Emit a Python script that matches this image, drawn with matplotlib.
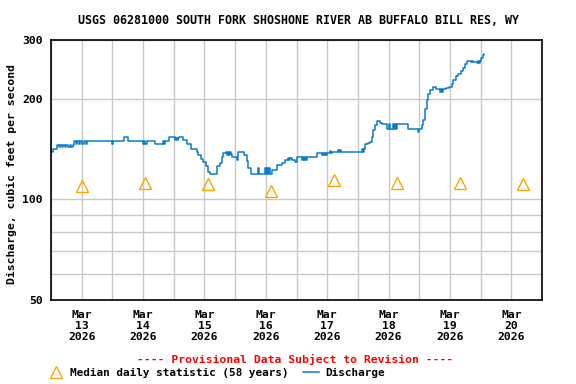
import numpy as np
import pandas as pd
import matplotlib
matplotlib.use('Agg')
import matplotlib.pyplot as plt
import matplotlib.dates as mdates
from matplotlib.lines import Line2D
from matplotlib.ticker import FixedLocator, NullFormatter

# 数据：距 2026-03-13 00:00 的小时数，以及流量 (cfs)
hours = [0, 0.8, 2.3, 3.0, 3.5, 4.3, 4.8, 5.5, 6.0, 6.8, 7.3, 8.0, 8.5,
         9.0, 9.6, 10.2, 11.0, 11.5, 12.3, 12.8, 13.5, 14.0, 24.0, 24.3,
         28.5, 30.1, 36.0, 36.4, 36.8, 37.5, 40.7, 43.8, 44.2, 44.6,
         46.1, 48.5, 48.9, 49.3, 49.7, 50.0, 51.6, 53.2, 54.7, 57.1,
         57.5, 58.6, 59.4, 60.6, 61.4, 62.2, 64.9, 66.1, 66.8, 67.2,
         68.4, 68.8, 69.2, 69.6, 70.0, 70.4, 70.8, 72.7, 73.1, 75.4,
         76.6, 77.0, 78.2, 80.9, 81.3, 83.7, 84.1, 84.5, 85.0, 85.4,
         85.8, 86.4, 88.3, 90.3, 91.5, 92.6, 93.0, 93.4, 94.2, 95.4,
         96.2, 98.1, 98.5, 98.9, 99.3, 99.7, 100.1, 104.0, 106.0, 106.4,
         106.8, 107.2, 107.6, 107.9, 109.1, 109.5, 109.8, 112.2, 112.6,
         113.0, 113.4, 113.8, 121.6, 122.0, 122.3, 122.7, 123.9, 124.7,
         125.5, 125.9, 126.7, 127.4, 128.6, 129.4, 131.3, 132.1, 132.5,
         133.7, 134.1, 134.5, 134.9, 135.3, 139.6, 143.5, 143.9, 145.0,
         145.4, 146.2, 147.0, 147.4, 148.2, 149.3, 150.5, 152.1, 152.5,
         152.9, 153.2, 154.4, 155.6, 156.8, 157.1, 158.3, 159.1, 160.3,
         161.1, 161.8, 162.6, 164.2, 164.6, 165.0, 166.5, 166.9, 167.3,
         167.7, 168.1, 168.9, 169.3]
cfs = [139, 142, 146, 144, 146, 144, 146, 144, 146, 144, 146, 144, 146,
       150, 147, 150, 147, 150, 147, 150, 147, 150, 147, 150,
       153.5, 150, 147, 150, 147, 150, 146.5, 150, 146.5, 150,
       154, 151, 153, 151, 153, 154, 150.5, 146.5, 142, 139,
       136, 132, 129, 126, 121, 119, 126, 128.5, 134, 137.5,
       138.5, 136, 138.5, 136, 138.5, 137, 134, 131, 138.5, 136,
       130, 124, 119, 124, 119, 124, 119, 124, 119, 124,
       119, 122.5, 127, 128.5, 131, 133, 131, 133, 131, 129,
       134, 131, 134, 131, 134, 131, 134, 138, 136, 138,
       136, 138, 136, 138, 140, 138, 139, 141, 139,
       141, 139, 139, 141.5, 139, 142, 146.5, 148, 149,
       154, 161, 167, 171.7, 169, 168, 163, 168, 163,
       168, 163, 168, 163, 168, 163, 159, 163, 167,
       172.5, 186, 199, 207, 212.5, 216.5, 213.5, 210, 213.5,
       210, 213.5, 215, 217.5, 222, 227.5, 234.5, 237, 242,
       248, 254, 259.5, 258, 259.5, 258, 256, 259.5, 256,
       259.5, 265, 270.5, 273]

# 中位数统计：位置（小时）与数值
median_hours = [12.1, 36.8, 61.4, 86.0, 110.6, 135.3, 159.9, 184.5]
median_cfs = [110, 112, 111, 106, 114, 112, 112, 111]

start = pd.Timestamp('2026-03-13')
t = [start + pd.Timedelta(hours=h) for h in hours]
t_med = [start + pd.Timedelta(hours=h) for h in median_hours]

mono = 'DejaVu Sans Mono'
blue = '#0a7ccc'
orange = '#ffa500'
fs = 8.2

fig = plt.figure(figsize=(5.76, 3.84), dpi=100)
ax = fig.add_axes([51 / 576, 84 / 384, 491 / 576, 260 / 384])

ax.plot(t, cfs, color=blue, lw=1.1, drawstyle='steps-post')
ax.plot(t_med, median_cfs, linestyle='none', marker='^', ms=8,
        mfc='none', mec=orange, mew=1.0)

ax.set_yscale('log')
ax.set_ylim(50, 300)
ax.yaxis.set_major_locator(FixedLocator([50, 100, 200, 300]))
ax.yaxis.set_major_formatter(plt.FixedFormatter(['50', '100', '200', '300']))
ax.yaxis.set_minor_locator(FixedLocator([60, 70, 80, 90]))
ax.yaxis.set_minor_formatter(NullFormatter())

ax.set_xlim(start, start + pd.Timedelta(days=8))
ax.xaxis.set_major_locator(mdates.DayLocator())
ax.xaxis.set_major_formatter(NullFormatter())
ax.xaxis.set_minor_locator(mdates.HourLocator(byhour=[12]))
ax.xaxis.set_minor_formatter(mdates.DateFormatter('%b\n%d\n%Y'))

ax.grid(True, which='both', color='#c8c8c8', lw=1)
ax.set_axisbelow(True)
ax.tick_params(which='both', length=0)
ax.tick_params(axis='y', pad=6)
ax.tick_params(axis='x', which='minor', pad=7)
for lab in ax.get_yticklabels() + ax.get_xticklabels(minor=True):
    lab.set_fontfamily(mono)
    lab.set_fontweight('bold')
    lab.set_fontsize(fs)
for lab in ax.get_xticklabels(minor=True):
    lab.set_linespacing(1.12)
for s in ax.spines.values():
    s.set_linewidth(1.2)

fig.text(12 / 576, 1 - 174 / 384, 'Discharge, cubic feet per second',
         rotation=90, ha='center', va='center', fontfamily=mono,
         fontweight='bold', fontsize=fs)

fig.text(299 / 576, 1 - 20 / 384,
         'USGS 06281000 SOUTH FORK SHOSHONE RIVER AB BUFFALO BILL RES, WY',
         ha='center', va='center', fontfamily=mono, fontweight='bold', fontsize=8.4)
fig.text(295 / 576, 1 - 359 / 384, '---- Provisional Data Subject to Revision ----',
         ha='center', va='center', color='red', fontfamily=mono,
         fontweight='bold', fontsize=fs)

# 图例
fig.lines.append(Line2D([56 / 576], [1 - 372 / 384], transform=fig.transFigure,
                        marker='^', ms=8, mfc='none', mec=orange, mew=1.0, linestyle='none'))
fig.text(70 / 576, 1 - 373 / 384, 'Median daily statistic (58 years)',
         ha='left', va='center', fontfamily=mono, fontweight='bold', fontsize=7.9)
fig.lines.append(Line2D([303 / 576, 319 / 576], [1 - 372 / 384] * 2,
                        transform=fig.transFigure, color=blue, lw=1.1))
fig.text(325 / 576, 1 - 373 / 384, 'Discharge',
         ha='left', va='center', fontfamily=mono, fontweight='bold', fontsize=7.9)

plt.savefig('out.png', dpi=100)
